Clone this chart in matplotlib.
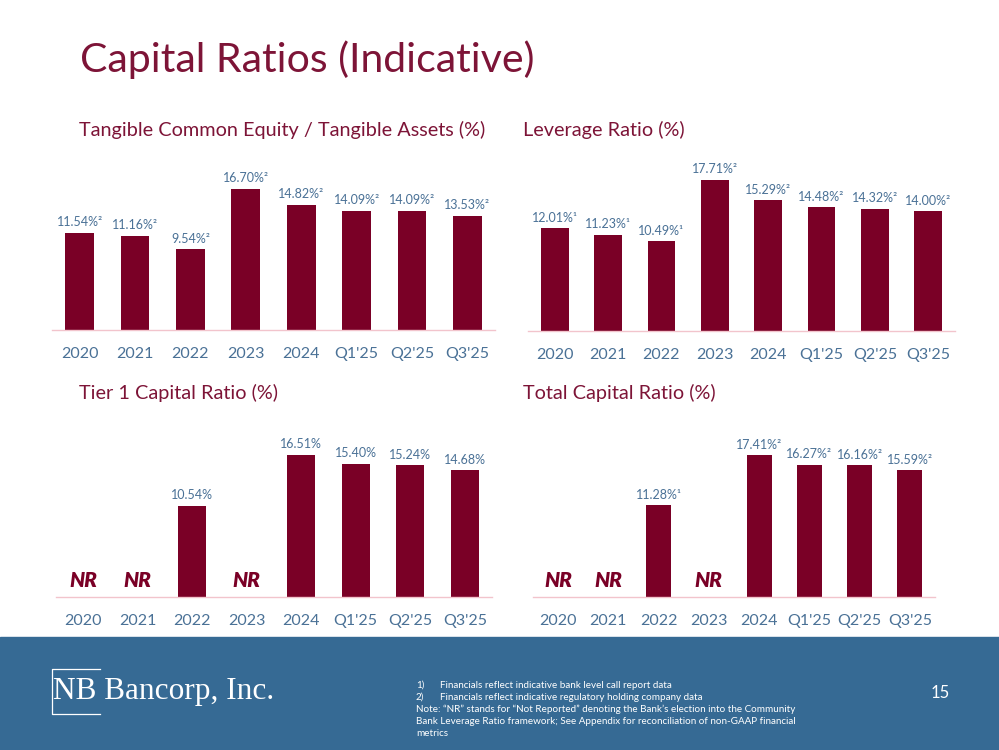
import matplotlib.pyplot as plt
from matplotlib.patches import Rectangle

plt.rcParams['font.family'] = ['Lato', 'DejaVu Sans']

periods = ["2020", "2021", "2022", "2023", "2024", "Q1'25", "Q2'25", "Q3'25"]

tce = [11.54, 11.16, 9.54, 16.70, 14.82, 14.09, 14.09, 13.53]
tce_notes = [2, 2, 2, 2, 2, 2, 2, 2]

leverage = [12.01, 11.23, 10.49, 17.71, 15.29, 14.48, 14.32, 14.00]
leverage_notes = [1, 1, 1, 2, 2, 2, 2, 2]

tier1 = [None, None, 10.54, None, 16.51, 15.40, 15.24, 14.68]
tier1_notes = [0, 0, 0, 0, 0, 0, 0, 0]

total = [None, None, 11.28, None, 17.41, 16.27, 16.16, 15.59]
total_notes = [0, 0, 1, 0, 2, 2, 2, 2]

footnotes = [
    ("1)", "Financials reflect indicative bank level call report data"),
    ("2)", "Financials reflect indicative regulatory holding company data"),
    ("", "Note: \u201cNR\u201d stands for \u201cNot Reported\u201d denoting the Bank\u2019s election into the Community"),
    ("", "Bank Leverage Ratio framework; See Appendix for reconciliation of non-GAAP financial"),
    ("", "metrics"),
]

BAR = '#7A0026'
MAROON = '#7D1437'
LABEL = '#4A7196'
BASE = '#F2C4CC'
FOOTER = '#366A94'

W, H = 999, 750
fig = plt.figure(figsize=(W / 100, H / 100), dpi=100)


def px_axes(left, right, bottom, height):
    return fig.add_axes([left / W, 1 - bottom / H, (right - left) / W, height / H])


sup = {0: '', 1: '\u00b9', 2: '\u00b2'}


def bar_panel(ax, values, notes, width, ymax=20):
    xs = list(range(len(periods)))
    for i, v in enumerate(values):
        if v is None:
            ax.text(i, 0.8, 'NR', ha='center', va='bottom', color=BAR,
                    fontsize=15, fontweight='heavy', style='italic')
            continue
        ax.bar(i, v, width=width, color=BAR)
        ax.text(i, v + 0.55, f'{v:.2f}%' + sup[notes[i]], ha='center', va='bottom',
                color=LABEL, fontsize=9)
    ax.set_xlim(-0.5, len(periods) - 0.5)
    ax.set_ylim(0, ymax)
    ax.set_xticks(xs)
    ax.set_xticklabels(periods, fontsize=11.5, color=LABEL)
    ax.tick_params(axis='x', length=0, pad=12.5)
    ax.set_yticks([])
    for s in ['top', 'left', 'right']:
        ax.spines[s].set_visible(False)
    ax.spines['bottom'].set_color(BASE)
    ax.spines['bottom'].set_linewidth(1.0)
    ax.set_facecolor('none')


ax1 = px_axes(52, 495, 330, 20 * 8.44)
bar_panel(ax1, tce, tce_notes, 0.52)
ax2 = px_axes(528, 955, 330.5, 20 * 8.51)
bar_panel(ax2, leverage, leverage_notes, 0.52)
ax3 = px_axes(56, 492, 597, 20 * 8.63)
bar_panel(ax3, tier1, tier1_notes, 0.52)
ax4 = px_axes(533, 935, 597, 20 * 8.14)
bar_panel(ax4, total, total_notes, 0.5)

# titles
fig.text(80 / W, 1 - 60 / H, 'Capital Ratios (Indicative)', color=MAROON,
         fontsize=29.5, va='center', ha='left')
fig.text(79 / W, 1 - 130 / H, 'Tangible Common Equity / Tangible Assets (%)',
         color=MAROON, fontsize=14.3, va='center')
fig.text(523 / W, 1 - 130 / H, 'Leverage Ratio (%)', color=MAROON, fontsize=14.3, va='center')
fig.text(79 / W, 1 - 393 / H, 'Tier 1 Capital Ratio (%)', color=MAROON, fontsize=14.3, va='center')
fig.text(523 / W, 1 - 393 / H, 'Total Capital Ratio (%)', color=MAROON, fontsize=14.3, va='center')

# footer band
fig.patches.append(Rectangle((0, 0), 1, (H - 637) / H, transform=fig.transFigure,
                             color=FOOTER, zorder=0))
fig.text(53 / W, 1 - 691 / H, 'NB Bancorp, Inc.', color='white', fontsize=22.5,
         family=['Liberation Serif', 'DejaVu Serif'], va='center', ha='left')
frame_x = [100 / W, 52 / W, 52 / W, 100 / W]
frame_y = [1 - 669 / H, 1 - 669 / H, 1 - 714 / H, 1 - 714 / H]
fig.lines.append(plt.Line2D(frame_x, frame_y, transform=fig.transFigure,
                            color='white', linewidth=0.9))

for k, (num, line) in enumerate(footnotes):
    y = 1 - (685 + k * 12) / H
    if num:
        fig.text(416 / W, y, num, color='white', fontsize=7.1, va='center')
        fig.text(440 / W, y, line, color='white', fontsize=7.1, va='center')
    else:
        fig.text(416 / W, y, line, color='white', fontsize=7.1, va='center')

fig.text(940 / W, 1 - 693 / H, '15', color='white', fontsize=12, va='center', ha='center')

fig.savefig('out.png', dpi=100)
